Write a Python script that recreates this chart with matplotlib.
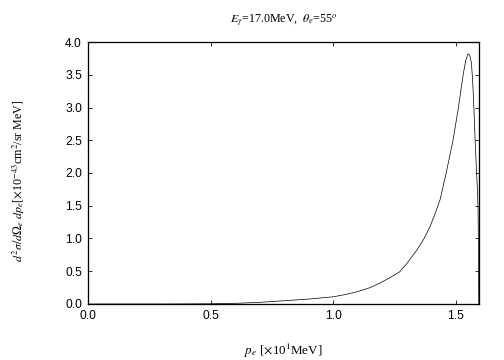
import matplotlib
matplotlib.use("Agg")
import matplotlib.pyplot as plt

# Datos
p_e = [0.0, 0.3, 0.5, 0.6, 0.7, 0.8, 0.9, 1.0, 1.05, 1.1, 1.15, 1.19, 1.23, 1.27,
       1.30, 1.34, 1.37, 1.394, 1.415, 1.435, 1.46, 1.488, 1.51, 1.53, 1.54,
       1.549, 1.556, 1.563, 1.568, 1.573, 1.578, 1.584, 1.588, 1.59, 1.591, 1.593]
seccion = [0.0, 0.0, 0.003, 0.01, 0.025, 0.05, 0.075, 0.11, 0.145, 0.19, 0.25, 0.32,
           0.40, 0.49, 0.62, 0.82, 1.0, 1.18, 1.38, 1.59, 2.0, 2.5, 3.0, 3.52, 3.72,
           3.82, 3.8, 3.68, 3.4, 3.0, 2.5, 2.0, 1.7, 1.43, 1.0, 0.0]

xticks = [0.0, 0.5, 1.0, 1.5]
yticks = [0.0, 0.5, 1.0, 1.5, 2.0, 2.5, 3.0, 3.5, 4.0]

plt.rcParams['mathtext.fontset'] = 'stix'

fig = plt.figure(figsize=(7, 5), dpi=72)
ax = fig.add_axes([0.1746, 0.1556, 0.7754, 0.7277])

ax.plot(p_e, seccion, color='black', linewidth=0.7)

ax.set_xlim(0, 1.593)
ax.set_ylim(0, 4.0)
ax.set_xticks(xticks)
ax.set_yticks(yticks)
ax.set_xticklabels(['%.1f' % v for v in xticks], family='Liberation Sans', fontsize=12)
ax.set_yticklabels(['%.1f' % v for v in yticks], family='Liberation Sans', fontsize=12)
ax.tick_params(direction='in', length=4, width=0.8, top=True, right=True, pad=6)
for s in ax.spines.values():
    s.set_linewidth(1.3)

ax.set_title(r'$E_\gamma$=17.0MeV,  $\theta_e$=55$^o$', family='Liberation Serif',
             fontsize=12, pad=20)
ax.set_xlabel(r'$p_e$ [$\times$10$^1$MeV]', family='Liberation Serif', fontsize=13, labelpad=20)
ax.set_ylabel(r'$d^2\sigma/d\Omega_e\ dp_e$[$\times$10$^{-43}$cm$^2$/sr MeV]',
              family='Liberation Serif', fontsize=12)
ax.yaxis.set_label_coords(-0.155, 0.47)

plt.savefig('out.png', dpi=72)
